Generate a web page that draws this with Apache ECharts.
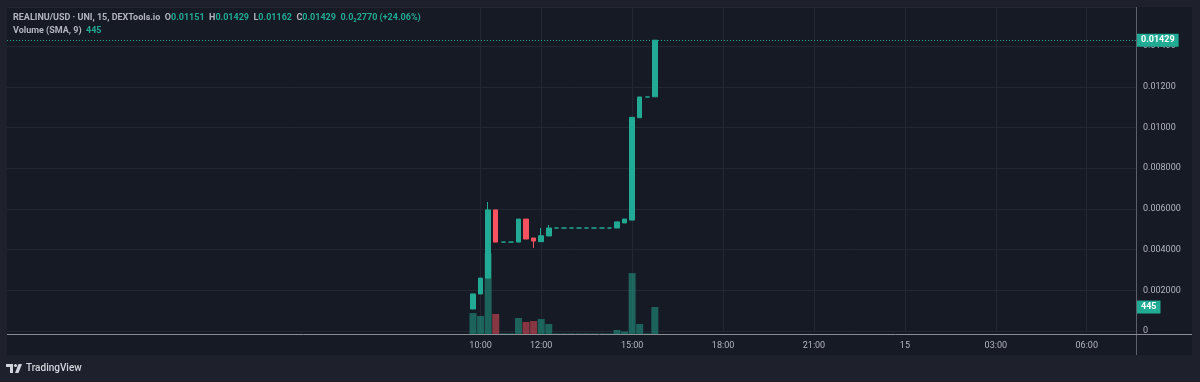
<!DOCTYPE html>
<html>
<head>
<meta charset="utf-8">
<script src="https://cdn.jsdelivr.net/npm/echarts@6/dist/echarts.min.js"></script>
<style>
html,body{margin:0;padding:0;background:#1e212b;}
#main{width:1200px;height:382px;}
</style>
</head>
<body>
<div id="main"></div>
<script>
// 15 minute candles, REALINU/USD on the 14th
var candleTimes = ['09:45','10:00','10:15','10:30','10:45','11:00','11:15','11:30','11:45','12:00','12:15',
    '12:30','12:45','13:00','13:15','13:30','13:45','14:00','14:15','14:30','14:45','15:00','15:15','15:30','15:45'];
var opens  = [0.00108,0.00182,0.00260,0.00595,0.00437,0.00437,0.00437,0.00550,0.00457,0.00439,0.00467,
    0.00506,0.00506,0.00506,0.00506,0.00506,0.00506,0.00506,0.00506,0.00506,0.00531,0.00545,0.01048,0.01150,0.01151];
var closes = [0.00182,0.00260,0.00595,0.00437,0.00437,0.00437,0.00550,0.00452,0.00442,0.00468,0.00506,
    0.00506,0.00506,0.00506,0.00506,0.00506,0.00506,0.00506,0.00506,0.00536,0.00550,0.01050,0.01150,0.01150,0.01429];
var lows   = [0.00108,0.00182,0.00260,0.00437,0.00437,0.00437,0.00437,0.00452,0.00408,0.00439,0.00467,
    0.00506,0.00506,0.00506,0.00506,0.00506,0.00506,0.00506,0.00506,0.00506,0.00531,0.00545,0.01048,0.01150,0.01151];
var highs  = [0.00182,0.00260,0.00634,0.00595,0.00437,0.00437,0.00550,0.00550,0.00457,0.00506,0.00521,
    0.00506,0.00506,0.00506,0.00506,0.00506,0.00506,0.00506,0.00506,0.00536,0.00550,0.01050,0.01150,0.01150,0.01429];
var volumes = [346,297,1335,330,10,10,264,198,214,247,165,8,8,8,8,8,8,8,8,66,41,1005,165,10,445];

var tickKeys   = ['14 10:00','14 12:00','14 15:00','14 18:00','14 21:00','15 00:00','15 03:00','15 06:00'];
var tickLabels = ['10:00','12:00','15:00','18:00','21:00','15','03:00','06:00'];
var priceLabels = ['0','0.002000','0.004000','0.006000','0.008000','0.01000','0.01200','0.01400'];
var lastPrice = 0.01429;
var lastVolume = 445;

var UP = '#22ab94', DOWN = '#f7525f';
var TXT = '#b2b5be', GRID = '#232733';

// time slots from 13th 18:30 to 15th 07:30
var cats = [];
for (var i = 0; i < 149; i++) {
    var m = 18 * 60 + 30 + i * 15;
    var d = 13 + Math.floor(m / 1440);
    m = m % 1440;
    var hh = Math.floor(m / 60), mm = m % 60;
    cats.push(d + ' ' + (hh < 10 ? '0' : '') + hh + ':' + (mm < 10 ? '0' : '') + mm);
}

var kData = [], vData = [], empty = [];
cats.forEach(function (c) {
    var j = candleTimes.indexOf(c.slice(3));
    empty.push('-');
    if (c.slice(0, 2) === '14' && j >= 0) {
        kData.push([opens[j], closes[j], lows[j], highs[j]]);
        var down = closes[j] < opens[j];
        vData.push({value: volumes[j], itemStyle: {color: down ? 'rgba(247,82,95,0.5)' : 'rgba(34,171,148,0.5)'}});
    } else {
        kData.push('-');
        vData.push('-');
    }
});

var chart = echarts.init(document.getElementById('main'));
var font = 'Roboto, sans-serif';

function tagLabel(text) {
    return {
        show: true, position: 'end', distance: 1, formatter: text,
        color: '#ffffff', fontSize: 9, fontWeight: 'bold', fontFamily: font,
        backgroundColor: UP, padding: [2, 4, 2, 4]
    };
}

var option = {
    animation: false,
    backgroundColor: '#1e212b',
    textStyle: {fontFamily: font},
    title: [{
        left: 13, top: 13, padding: 0,
        text: '{l|REALINU/USD · UNI, 15, DEXTools.io  O}{v|0.01151}{l|  H}{v|0.01429}{l|  L}{v|0.01162}{l|  C}{v|0.01429}{v|  0.0₂2770 (+24.06%)}',
        textStyle: {
            rich: {
                l: {color: TXT, fontSize: 9, fontFamily: font},
                v: {color: UP, fontSize: 9, fontFamily: font}
            }
        }
    }, {
        left: 13, top: 26, padding: 0,
        text: '{l|Volume (SMA, 9)  }{v|445}',
        textStyle: {
            rich: {
                l: {color: TXT, fontSize: 9, fontFamily: font},
                v: {color: UP, fontSize: 9, fontFamily: font}
            }
        }
    }],
    graphic: [
        {type: 'rect', z: -10, shape: {x: 7, y: 7, width: 1185, height: 348}, style: {fill: '#161a25'}},
        {type: 'line', z: 100, shape: {x1: 1136.5, y1: 7, x2: 1136.5, y2: 355}, style: {stroke: '#5d606b', lineWidth: 1}},
        {type: 'line', z: 100, shape: {x1: 7, y1: 334.5, x2: 1192, y2: 334.5}, style: {stroke: '#8a8d96', lineWidth: 1}},
        // TradingView logo
        {type: 'rect', shape: {x: 6, y: 364, width: 7, height: 3}, style: {fill: '#d1d4dc'}},
        {type: 'rect', shape: {x: 10, y: 364, width: 3, height: 9}, style: {fill: '#d1d4dc'}},
        {type: 'circle', shape: {cx: 15.5, cy: 365.5, r: 1.6}, style: {fill: '#d1d4dc'}},
        {type: 'polygon', shape: {points: [[15, 373], [18.5, 364], [22, 364], [18.5, 373]]}, style: {fill: '#d1d4dc'}},
        {type: 'text', left: 26, top: 363, style: {text: 'TradingView', fill: '#d1d4dc', font: '500 10px Roboto, sans-serif'}}
    ],
    grid: [
        {left: 7, right: 64, top: 7, bottom: 51, outerBoundsMode: 'none'},
        {left: 7, right: 64, top: 182.5, bottom: 48, outerBoundsMode: 'none'}
    ],
    xAxis: [{
        type: 'category', gridIndex: 0, data: cats, boundaryGap: true,
        axisLine: {show: false}, axisTick: {show: false}, axisLabel: {show: false}, splitLine: {show: false}
    }, {
        type: 'category', gridIndex: 1, data: cats, boundaryGap: true,
        axisLine: {show: false}, axisTick: {show: false}, splitLine: {show: false},
        axisLabel: {
            color: TXT, fontSize: 9, margin: 7, fontFamily: font,
            interval: function (idx, val) { return tickKeys.indexOf(val) >= 0; },
            formatter: function (val) { return tickLabels[tickKeys.indexOf(val)]; }
        }
    }],
    yAxis: [{
        type: 'value', gridIndex: 0, position: 'right', min: 0, max: 0.015921, interval: 0.002,
        axisLine: {show: false}, axisTick: {show: false},
        splitLine: {lineStyle: {color: GRID, width: 1}},
        axisLabel: {
            color: TXT, fontSize: 9, margin: 7, fontFamily: font, showMaxLabel: false,
            formatter: function (v) { return priceLabels[Math.round(v / 0.002)]; }
        }
    }, {
        type: 'value', gridIndex: 1, min: 0, max: 2500, show: false
    }],
    series: [{
        // vertical grid lines at the time labels
        type: 'line', xAxisIndex: 0, yAxisIndex: 0, data: empty, z: 0, silent: true,
        markLine: {
            silent: true, z: 0, symbol: ['none', 'none'], animation: false,
            label: {show: false},
            lineStyle: {color: GRID, type: 'solid', width: 1},
            data: tickKeys.map(function (k) { return {xAxis: k}; })
        }
    }, {
        type: 'bar', xAxisIndex: 1, yAxisIndex: 1, data: vData, barWidth: 7, z: 1
    }, {
        type: 'candlestick', xAxisIndex: 0, yAxisIndex: 0, data: kData, barWidth: 5, z: 3,
        itemStyle: {
            color: UP, color0: DOWN, borderColor: UP, borderColor0: DOWN,
            borderColorDoji: UP, borderWidth: 1
        }
    }, {
        // last price line and tag
        type: 'line', xAxisIndex: 0, yAxisIndex: 0, data: empty, silent: true, z: 5,
        markLine: {
            silent: true, z: 5, precision: 6, symbol: ['none', 'none'], animation: false,
            data: [{
                yAxis: lastPrice,
                lineStyle: {color: UP, type: [1, 2], width: 1},
                label: tagLabel(lastPrice.toFixed(5))
            }]
        }
    }, {
        // last volume tag on the axis
        type: 'line', xAxisIndex: 1, yAxisIndex: 1, data: empty, silent: true, z: 5,
        markLine: {
            silent: true, z: 5, symbol: ['none', 'none'], animation: false,
            data: [{
                yAxis: lastVolume,
                lineStyle: {color: 'rgba(0,0,0,0)', width: 0},
                label: tagLabel(String(lastVolume))
            }]
        }
    }]
};
chart.setOption(option);
</script>
</body>
</html>
